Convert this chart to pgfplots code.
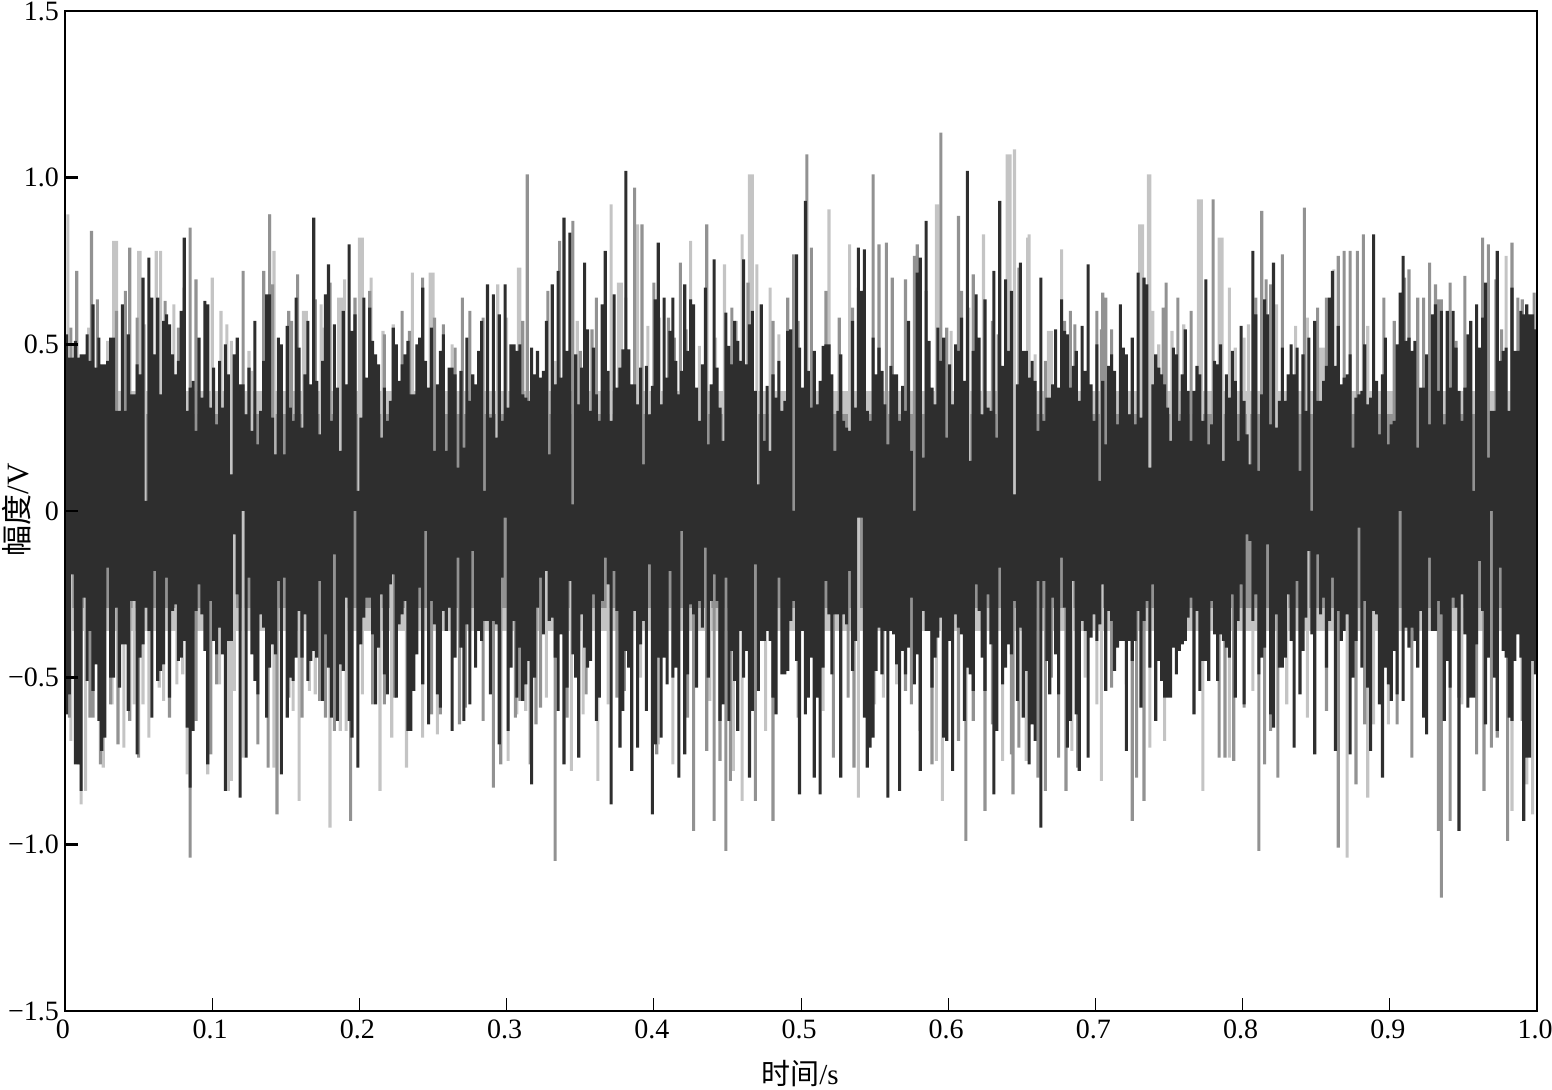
\documentclass[border=0pt]{standalone}
\usepackage{pgfplots}
\pgfplotsset{compat=1.18}
\usepackage{fontspec}
\setmainfont{Liberation Serif}
\newfontfamily\cjk{Noto Sans CJK SC}
\definecolor{dk}{HTML}{2E2E2E}
\definecolor{md}{HTML}{929292}
\definecolor{lt}{HTML}{C4C4C4}
\begin{document}
\begin{tikzpicture}
\useasboundingbox (-32.5pt,-39.5pt) rectangle (743.5pt,505.5pt);
\begin{axis}[at={(0,0)},anchor=south west,width=736pt,height=500pt,scale only axis,
 xmin=0,xmax=1,ymin=-1.5,ymax=1.5,axis on top,clip=true,
 axis line style={line width=1.3pt},tick align=inside,major tick length=6.5pt,
 xtick pos=bottom,ytick pos=left,
 xtick={0,0.1,0.2,0.3,0.4,0.5,0.6,0.7,0.8,0.9,1},
 xticklabels={0,0.1,0.2,0.3,0.4,0.5,0.6,0.7,0.8,0.9,1.0},
 ytick={-1.5,-1,-0.5,0,0.5,1,1.5},
 yticklabels={−1.5,−1.0,−0.5,0,0.5,1.0,1.5},
 xtick style={line width=0.5pt,black},ytick style={line width=1.2pt,black},
 tick label style={font=\fontsize{14}{17}\selectfont},
 xticklabel style={yshift=-1pt,xshift=-1pt},
 yticklabel style={xshift=0.5pt},
 xlabel={{\cjk 时间}/s},ylabel={{\cjk 幅度}/V},
 every axis x label/.style={at={(axis description cs:0.4993,-0.0625)},anchor=center,font=\fontsize{14.5}{16}\selectfont},
 every axis y label/.style={at={(axis description cs:-0.0326,0.501)},rotate=90,anchor=center,font=\fontsize{15.5}{18}\selectfont},
 cbar/.style={ybar,bar width=1.55pt,bar shift=0pt,draw=none,forget plot},
]
\addplot[fill=lt,draw=none,forget plot] coordinates {(0,-0.36)(1,-0.36)(1,0.36)(0,0.36)} -- cycle;
\addplot[fill=md,draw=none,forget plot] coordinates {(0,-0.29)(1,-0.29)(1,0.29)(0,0.29)} -- cycle;
% light grey spikes
\addplot[cbar,fill=lt] table[x index=0,y index=1] {
.002 .89
.006 .50
.016 .55
.029 .51
.031 .51
.033 .81
.035 .81
.050 .78
.051 .78
.054 .56
.062 .78
.065 .78
.074 .62
.096 .58
.100 .70
.106 .60
.110 .56
.113 .51
.125 .48
.127 .42
.139 .89
.142 .78
.162 .60
.164 .60
.174 .62
.176 .55
.186 .64
.188 .64
.190 .695
.200 .82
.202 .82
.208 .70
.216 .54
.223 .56
.236 .715
.248 .715
.250 .715
.263 .50
.294 .68
.300 .58
.308 .73
.309 .73
.333 .45
.348 .57
.371 .92
.376 .685
.378 .685
.381 .64
.389 .86
.396 .555
.404 .58
.425 .81
.431 .495
.442 .52
.448 .74
.456 .57
.460 .83
.465 1.01
.467 1.01
.470 .74
.479 .67
.485 .53
.519 .905
.533 .80
.592 .92
.593 .92
.602 .54
.614 .61
.624 .83
.640 1.07
.642 1.07
.645 1.085
.654 .82
.655 .83
.659 .47
.668 .54
.670 .54
.677 .785
.730 .86
.732 .86
.736 1.01
.737 1.01
.739 .60
.743 .50
.752 .54
.760 .56
.770 .935
.772 .935
.784 .82
.786 .82
.791 .67
.795 .49
.801 .52
.804 .56
.823 .62
.836 .555
.844 .58
.853 .49
.855 .49
.862 .725
.885 .555
.979 .765
.004 -.69
.007 -.69
.009 -.76
.011 -.88
.014 -.84
.026 -.77
.032 -.58
.040 -.71
.047 -.58
.053 -.58
.057 -.68
.064 -.53
.067 -.57
.076 -.52
.080 -.49
.083 -.79
.097 -.79
.105 -.52
.111 -.84
.113 -.81
.115 -.54
.121 -.74
.142 -.77
.155 -.60
.159 -.87
.166 -.54
.170 -.55
.180 -.95
.187 -.66
.191 -.66
.202 -.55
.214 -.84
.222 -.68
.232 -.77
.243 -.68
.253 -.67
.301 -.75
.307 -.61
.313 -.60
.327 -.56
.344 -.78
.352 -.61
.362 -.81
.369 -.58
.391 -.50
.403 -.70
.413 -.76
.438 -.57
.454 -.78
.460 -.87
.476 -.66
.515 -.60
.539 -.86
.550 -.58
.556 -.56
.565 -.52
.592 -.75
.596 -.87
.637 -.75
.653 -.75
.684 -.72
.693 -.50
.701 -.58
.704 -.81
.737 -.71
.747 -.69
.773 -.84
.791 -.74
.807 -.54
.830 -.58
.844 -.62
.871 -1.04
.885 -.86
.889 -.64
.899 -.64
.949 -.58
.983 -.90
.993 -.82
.997 -.91
};
% mid grey spikes
\addplot[cbar,fill=md] table[x index=0,y index=1] {
.004 .55
.008 .72
.018 .84
.022 .635
.035 .60
.041 .66
.044 .79
.049 .58
.068 .63
.077 .55
.079 .55
.081 .67
.085 .85
.089 .695
.121 .72
.135 .72
.139 .89
.141 .68
.152 .60
.154 .57
.158 .71
.170 .635
.180 .685
.197 .64
.207 .66
.217 .53
.229 .60
.234 .54
.243 .70
.251 .58
.257 .56
.265 .49
.270 .64
.275 .60
.284 .58
.311 .57
.314 1.01
.328 .66
.336 .81
.345 .87
.350 .48
.358 .545
.361 .64
.387 .97
.392 .86
.400 .685
.410 .58
.414 .52
.418 .745
.422 .545
.436 .86
.453 .61
.464 .685
.481 .57
.491 .64
.495 .77
.498 .57
.504 1.07
.507 .79
.517 .66
.526 .58
.535 .61
.539 .67
.543 .60
.549 1.01
.553 .80
.558 .805
.562 .70
.571 .695
.577 .765
.579 .80
.585 .66
.595 1.135
.599 .55
.607 .885
.609 .66
.617 .71
.630 .57
.634 .53
.648 .73
.666 .45
.679 .57
.683 .60
.686 .56
.701 .60
.704 .545
.705 .655
.707 .64
.711 .545
.746 .61
.748 .685
.756 .64
.765 .60
.780 .935
.809 .64
.813 .90
.816 .695
.819 .68
.827 .77
.842 .91
.851 .61
.857 .64
.865 .765
.869 .78
.873 .78
.878 .78
.882 .83
.896 .64
.903 .57
.910 .70
.913 .725
.919 .64
.923 .64
.927 .745
.931 .68
.933 .635
.935 .635
.941 .685
.945 .51
.951 .705
.963 .82
.967 .80
.972 .695
.976 .545
.983 .805
.987 .64
.990 .635
.998 .655
.003 -.62
.017 -.62
.019 -.62
.024 -.76
.031 -.58
.036 -.70
.044 -.63
.050 -.74
.071 -.62
.085 -1.04
.089 -.63
.099 -.73
.103 -.52
.131 -.70
.138 -.77
.144 -.91
.152 -.56
.161 -.62
.173 -.57
.177 -.62
.183 -.66
.194 -.93
.209 -.58
.217 -.58
.224 -.56
.249 -.61
.255 -.61
.268 -.64
.272 -.59
.284 -.63
.291 -.83
.296 -.76
.306 -.62
.309 -.57
.316 -.76
.320 -.64
.323 -.59
.333 -1.05
.341 -.62
.354 -.55
.375 -.56
.378 -.60
.380 -.54
.402 -.73
.423 -.62
.427 -.96
.436 -.72
.441 -.93
.445 -.75
.449 -1.02
.452 -.81
.469 -.87
.481 -.93
.498 -.62
.522 -.74
.532 -.56
.536 -.77
.571 -.54
.575 -.58
.581 -.66
.589 -.76
.607 -.69
.612 -.99
.617 -.63
.625 -.90
.630 -.64
.643 -.73
.644 -.85
.648 -.71
.658 -.60
.661 -.80
.666 -.84
.670 -.50
.675 -.74
.680 -.84
.688 -.77
.711 -.53
.721 -.52
.725 -.93
.728 -.80
.733 -.87
.750 -.54
.784 -.74
.788 -.74
.794 -.75
.801 -.59
.811 -1.02
.815 -.76
.819 -.66
.824 -.80
.857 -.60
.865 -1.01
.877 -.82
.883 -.64
.905 -.64
.915 -.74
.933 -.96
.935 -1.16
.941 -.93
.947 -.56
.959 -.73
.964 -.84
.969 -.71
.973 -.68
.980 -.99
.990 -.63
};
% dark signal, upper side, one value per 0.002 s
\addplot[cbar,fill=dk] table[x expr={\coordindex*0.002+0.001},y index=0] {
.53
.46
.46
.51
.46
.47
.47
.53
.45
.62
.43
.52
.44
.44
.45
.52
.52
.30
.30
.62
.30
.53
.35
.35
.44
.41
.70
.03
.76
.64
.47
.64
.35
.57
.59
.56
.47
.41
.45
.60
.82
.30
.37
.39
.24
.52
.34
.63
.62
.31
.43
.26
.45
.31
.50
.41
.11
.47
.52
.38
.38
.29
.43
.24
.57
.20
.30
.45
.65
.65
.28
.17
.52
.50
.17
.555
.31
.27
.64
.49
.25
.41
.57
.38
.88
.39
.23
.45
.65
.74
.27
.56
.37
.18
.60
.38
.80
.54
.59
.06
.28
.64
.40
.61
.51
.47
.44
.22
.37
.27
.33
.55
.50
.39
.44
.47
.51
.35
.35
.50
.52
.67
.45
.37
.55
.18
.38
.48
.53
.18
.43
.43
.41
.13
.42
.19
.52
.33
.41
.38
.48
.57
.06
.68
.28
.65
.22
.59
.27
.68
.31
.50
.50
.48
.50
.35
.34
.33
.49
.41
.48
.40
.42
.57
.17
.68
.38
.72
.40
.88
.48
.835
.02
.47
.32
.43
.745
.545
.30
.49
.35
.27
.62
.78
.42
.27
.65
.37
.43
.485
1.02
.485
.38
.38
.32
.43
.14
.435
.29
.375
.635
.805
.32
.64
.40
.54
.64
.45
.35
.42
.68
.48
.635
.62
.37
.27
.44
.67
.20
.38
.755
.43
.31
.21
.595
.495
.44
.57
.51
.45
.755
.44
.56
.60
.36
.08
.62
.21
.375
.18
.41
.34
.45
.30
.33
.54
.545
.00
.77
.49
.37
.93
.42
.31
.48
.32
.39
.495
.50
.50
.41
.18
.30
.47
.27
.25
.24
.57
.31
.79
.66
.785
.30
.27
.52
.41
.49
.42
.32
.20
.435
.41
.41
.27
.375
.30
.57
.18
-.02
.715
.76
.16
.87
.51
.37
.32
.55
.45
.52
.22
.44
.32
.50
.48
.58
.39
1.02
.15
.48
.65
.52
.29
.635
.31
.30
.72
.22
.93
.435
.695
.48
.66
.05
.38
.745
.48
.48
.40
.45
.39
.24
.70
.27
.34
.34
.38
.545
.37
.635
.54
.53
.37
.435
.48
.33
.555
.42
.74
.38
.27
.50
.09
.39
.20
.435
.47
.42
.26
.62
.49
.47
.29
.52
.26
.715
.28
.70
.68
.13
.38
.47
.43
.41
.38
.31
.21
.49
.47
.27
.41
.545
.36
.21
.36
.435
.41
.27
.695
.20
.26
.45
.44
.50
.15
.41
.34
.48
.39
.21
.555
.33
.23
.14
.78
.59
.12
.35
.635
.59
.26
.745
.25
.33
.49
.33
.41
.50
.41
.49
.12
.47
.30
.52
.00
.57
.33
.33
.39
.435
.64
.72
.435
.555
.38
.40
.41
.47
.19
.34
.35
.36
.50
.32
.34
.83
.39
.23
.41
.52
.20
.26
.27
.50
.655
.765
.51
.52
.48
.51
.19
.37
.37
.47
.26
.59
.62
.36
.60
.26
.60
.37
.60
.49
.36
.27
.37
.53
.57
.06
.62
.49
.58
.685
.16
.30
.30
.78
.45
.48
.49
.30
.67
.48
.48
.60
.59
.62
.59
.59
.545
.375
};
% dark signal, lower side
\addplot[cbar,fill=dk] table[x expr={\coordindex*0.002+0.001},y index=0] {
-.61
-.55
-.19
-.76
-.76
-.84
-.26
-.51
-.36
-.54
-.46
-.63
-.72
-.68
-.17
-.50
-.50
-.29
-.53
-.40
-.40
-.60
-.27
-.27
-.73
-.44
-.40
-.29
-.36
-.62
-.18
-.51
-.48
-.46
-.20
-.56
-.30
-.28
-.45
-.44
-.39
-.65
-.83
-.66
-.30
-.22
-.31
-.42
-.76
-.27
-.39
-.43
-.35
-.43
-.84
-.39
-.39
-.07
-.25
-.86
0
-.74
-.20
-.43
-.51
-.55
-.31
-.35
-.62
-.47
-.40
-.43
-.21
-.79
-.20
-.62
-.50
-.51
-.44
-.30
-.44
-.31
-.51
-.45
-.42
-.44
-.21
-.57
-.37
-.47
-.62
-.13
-.63
-.46
-.48
-.26
-.63
-.68
0
-.77
-.40
-.32
-.26
-.26
-.37
-.58
-.41
-.25
-.49
-.55
-.22
-.19
-.56
-.34
-.31
-.27
-.66
-.66
-.54
-.43
-.23
-.52
-.06
-.64
-.27
-.34
-.55
-.59
-.30
-.36
-.29
-.66
-.44
-.14
-.41
-.63
-.34
-.58
-.12
-.47
-.36
-.39
-.33
-.33
-.55
-.33
-.34
-.70
-.20
-.02
-.66
-.47
-.33
-.56
-.41
-.57
-.52
-.45
-.82
-.50
-.29
-.20
-.37
-.18
-.33
-.32
-.44
-.60
-.37
-.76
-.53
-.21
-.43
-.50
-.74
-.31
-.41
-.47
-.45
-.25
-.63
-.56
-.27
-.14
-.22
-.88
-.18
-.30
-.71
-.60
-.42
-.47
-.78
-.30
-.71
-.40
-.33
-.60
-.16
-.91
-.70
-.44
-.68
-.44
-.52
-.18
-.50
-.47
-.80
-.06
-.73
-.49
-.28
-.31
-.53
-.27
-.35
-.11
-.50
-.27
-.19
-.27
-.63
-.58
-.20
-.63
-.42
-.51
-.66
-.36
-.50
-.42
-.80
-.60
-.16
-.54
-.39
-.39
-.36
-.39
-.56
-.61
-.20
-.49
-.49
-.48
-.33
-.27
-.45
-.85
-.36
-.61
-.56
-.44
-.80
-.56
-.85
-.47
-.21
-.31
-.49
-.31
-.31
-.80
-.31
-.34
-.18
-.48
-.39
-.02
-.02
-.62
-.77
-.71
-.68
-.48
-.35
-.49
-.36
-.86
-.36
-.37
-.46
-.84
-.42
-.49
-.41
-.26
-.52
-.43
-.78
-.30
-.36
-.36
-.53
-.44
-.38
-.32
-.68
-.69
-.39
-.78
-.31
-.35
-.37
-.63
-.47
-.49
-.54
-.22
-.30
-.44
-.54
-.25
-.40
-.85
-.66
-.17
-.52
-.47
-.40
-.43
-.27
-.57
-.35
-.62
-.48
-.76
-.64
-.69
-.21
-.95
-.21
-.45
-.55
-.26
-.43
-.55
-.14
-.29
-.71
-.63
-.21
-.61
-.78
-.33
-.36
-.74
-.38
-.31
-.39
-.34
-.22
-.54
-.30
-.33
-.48
-.41
-.39
-.39
-.72
-.39
-.45
-.39
-.30
-.59
-.33
-.27
-.47
-.22
-.63
-.45
-.51
-.56
-.56
-.56
-.41
-.49
-.42
-.40
-.39
-.32
-.26
-.61
-.30
-.54
-.45
-.45
-.51
-.27
-.37
-.51
-.37
-.39
-.41
-.44
-.25
-.56
-.33
-.22
-.58
-.07
-.09
-.33
-.25
-.49
-.44
-.41
-.10
-.61
-.65
-.31
-.47
-.47
-.44
-.25
-.39
-.71
-.21
-.55
-.42
-.32
-.12
-.37
-.73
-.13
-.31
-.26
-.47
-.33
-.20
-.72
-.30
-.39
-.36
-.31
-.73
-.50
-.39
-.05
-.47
-.27
-.53
-.72
-.30
-.31
-.58
-.80
-.47
-.52
-.57
-.42
-.55
0
-.57
-.35
-.41
-.35
-.39
-.47
-.30
-.62
-.67
-.14
-.36
-.36
-.27
-.31
-.63
-.45
-.53
-.26
-.29
-.96
-.25
-.37
-.59
-.56
-.56
-.40
-.15
-.30
-.64
-.44
0
-.50
-.66
-.17
-.42
-.44
-.62
-.63
-.45
-.37
-.44
-.93
-.74
-.74
-.45
-.49
-.59
-.37
-.64
-.31
-.26
-.37
};
\end{axis}
\end{tikzpicture}
\end{document}
